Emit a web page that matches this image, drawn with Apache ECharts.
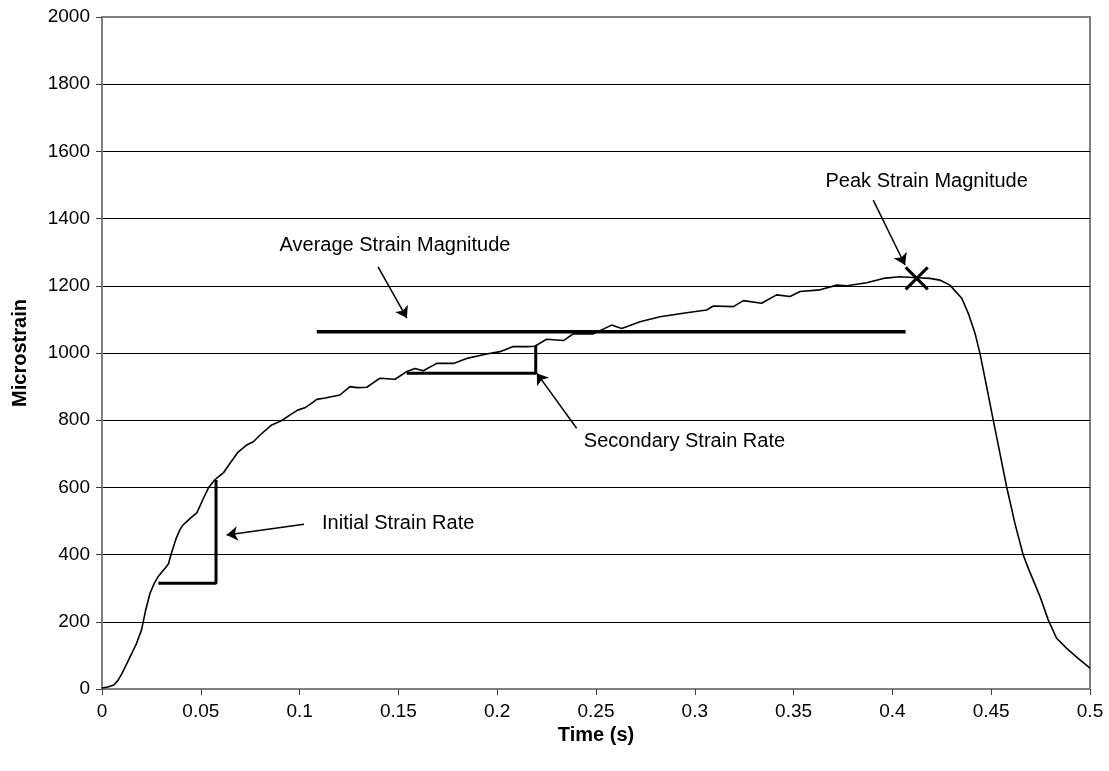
<!DOCTYPE html>
<html>
<head>
<meta charset="utf-8">
<script src="https://cdn.jsdelivr.net/npm/echarts@6/dist/echarts.min.js"></script>
<style>
  html, body { margin: 0; padding: 0; background: #fff; }
  #chart { width: 1109px; height: 771px; }
</style>
</head>
<body>
<div id="chart"></div>
<script>
// Strain gauge record: time (s) and microstrain
const timeS = [0, 0.003, 0.006, 0.008, 0.010, 0.0125, 0.015, 0.0175, 0.020, 0.022, 0.0243, 0.0265, 0.0285, 0.030, 0.032, 0.0336, 0.035, 0.0375, 0.0395, 0.041, 0.043, 0.0455, 0.048, 0.0513, 0.054, 0.057, 0.059, 0.0614, 0.0648, 0.069, 0.0732, 0.0766, 0.080, 0.0859, 0.091, 0.095, 0.099, 0.103, 0.106, 0.1087, 0.113, 0.116, 0.1204, 0.1255, 0.129, 0.134, 0.1407, 0.1483, 0.154, 0.1584, 0.1626, 0.1694, 0.1778, 0.1846, 0.1947, 0.2014, 0.2081, 0.2149, 0.219, 0.225, 0.2335, 0.2385, 0.2486, 0.2579, 0.263, 0.2723, 0.2824, 0.2959, 0.306, 0.3094, 0.3195, 0.3246, 0.3338, 0.3414, 0.3482, 0.3532, 0.3634, 0.3718, 0.3769, 0.387, 0.3954, 0.4038, 0.4123, 0.419, 0.424, 0.4291, 0.4351, 0.4384, 0.4418, 0.4443, 0.4477, 0.451, 0.4541, 0.4578, 0.462, 0.4662, 0.4688, 0.4747, 0.4789, 0.4831, 0.4882, 0.494, 0.5];
const microstrain = [3, 6, 12, 25, 45, 75, 105, 136, 176, 232, 285, 315, 335, 346, 360, 372, 402, 448, 475, 488, 499, 512, 524, 567, 600, 622, 632, 643, 672, 706, 726, 736, 756, 786, 799, 815, 830, 838, 850, 862, 866, 870, 875, 900, 897, 898, 925, 922, 944, 954, 947, 969, 969, 984, 997, 1004, 1019, 1019, 1020, 1041, 1037, 1057, 1057, 1083, 1073, 1093, 1108, 1120, 1128, 1140, 1138, 1156, 1148, 1173, 1168, 1183, 1188, 1202, 1200, 1209, 1222, 1227, 1224, 1222, 1217, 1202, 1163, 1118, 1059, 999, 900, 801, 711, 602, 493, 399, 359, 275, 205, 151, 121, 91, 62];

// Annotation geometry in data units
const initialRate = [[0.0285, 315], [0.0577, 315], [0.0577, 622]];
const secondaryRate = [[0.1542, 940], [0.2195, 940], [0.2195, 1022]];
const averageStrain = [[0.1087, 1063], [0.4067, 1063]];
const peakStrain = [0.4123, 1222];

const arrows = [
  [[0.1397, 1256], [0.1543, 1104]],
  [[0.3903, 1455], [0.4064, 1262]],
  [[0.2402, 776], [0.2200, 940]],
  [[0.1022, 490], [0.0631, 458]]
];

const labelsText = [
  [0.0896, 1321, 'Average Strain Magnitude'],
  [0.3659, 1509, 'Peak Strain Magnitude'],
  [0.2436, 736, 'Secondary Strain Rate'],
  [0.1111, 493, 'Initial Strain Rate']
];

const FONT = "'Liberation Sans', Arial, sans-serif";
const curve = timeS.map((t, i) => [t, microstrain[i]]);

const chart = echarts.init(document.getElementById('chart'));
chart.setOption({
  animation: false,
  backgroundColor: '#ffffff',
  grid: {
    left: 102, right: 19, top: 17, bottom: 82,
    show: true, borderColor: '#808080', borderWidth: 2, backgroundColor: '#fff'
  },
  xAxis: {
    type: 'value', min: 0, max: 0.5, interval: 0.05,
    name: 'Time (s)', nameLocation: 'middle', nameGap: 32,
    nameTextStyle: { fontFamily: FONT, fontSize: 20, fontWeight: 'bold', color: '#000', verticalAlign: 'top' },
    axisLine: { show: true, lineStyle: { color: '#808080', width: 2 } },
    axisTick: { show: true, length: 6, lineStyle: { color: '#404040', width: 1 } },
    axisLabel: { margin: 13, fontFamily: FONT, fontSize: 19, color: '#000' },
    splitLine: { show: false }
  },
  yAxis: {
    type: 'value', min: 0, max: 2000, interval: 200,
    name: 'Microstrain', nameLocation: 'middle', nameGap: 72, nameRotate: 90,
    nameTextStyle: { fontFamily: FONT, fontSize: 20, fontWeight: 'bold', color: '#000' },
    axisLine: { show: true, lineStyle: { color: '#808080', width: 2 } },
    axisTick: { show: true, length: 6, lineStyle: { color: '#404040', width: 1 } },
    axisLabel: { margin: 12, fontFamily: FONT, fontSize: 19, color: '#000', formatter: v => String(v) },
    splitLine: { show: true, showMinLine: false, showMaxLine: false, lineStyle: { color: '#000', width: 1 } }
  },
  series: [
    {
      type: 'line', data: curve, symbol: 'none', smooth: false,
      lineStyle: { color: '#000', width: 1.6 }, z: 5
    },
    {
      type: 'line', data: initialRate, symbol: 'none',
      lineStyle: { color: '#000', width: 3 }, z: 6
    },
    {
      type: 'line', data: secondaryRate, symbol: 'none',
      lineStyle: { color: '#000', width: 3 }, z: 6
    },
    {
      type: 'line', data: averageStrain, symbol: 'none',
      lineStyle: { color: '#000', width: 3.5 }, z: 6
    },
    {
      type: 'scatter', data: [peakStrain],
      symbol: 'path://M0,0L10,10M10,0L0,10', symbolSize: 22,
      itemStyle: { color: 'rgba(0,0,0,0)', borderColor: '#000', borderWidth: 3, opacity: 1 }, z: 7
    },
    {
      type: 'lines', coordinateSystem: 'cartesian2d',
      data: arrows.map(a => ({ coords: a })),
      symbol: ['none', 'arrow'], symbolSize: [0, 11],
      lineStyle: { color: '#000', width: 1.5, opacity: 1 }, z: 7
    },
    {
      type: 'scatter', data: labelsText, symbolSize: 1,
      itemStyle: { color: 'rgba(0,0,0,0)', opacity: 1 },
      label: {
        show: true, position: 'right', distance: 0,
        formatter: p => p.data[2],
        fontFamily: FONT, fontSize: 20, color: '#000', opacity: 1
      },
      z: 8
    }
  ]
});
</script>
</body>
</html>
